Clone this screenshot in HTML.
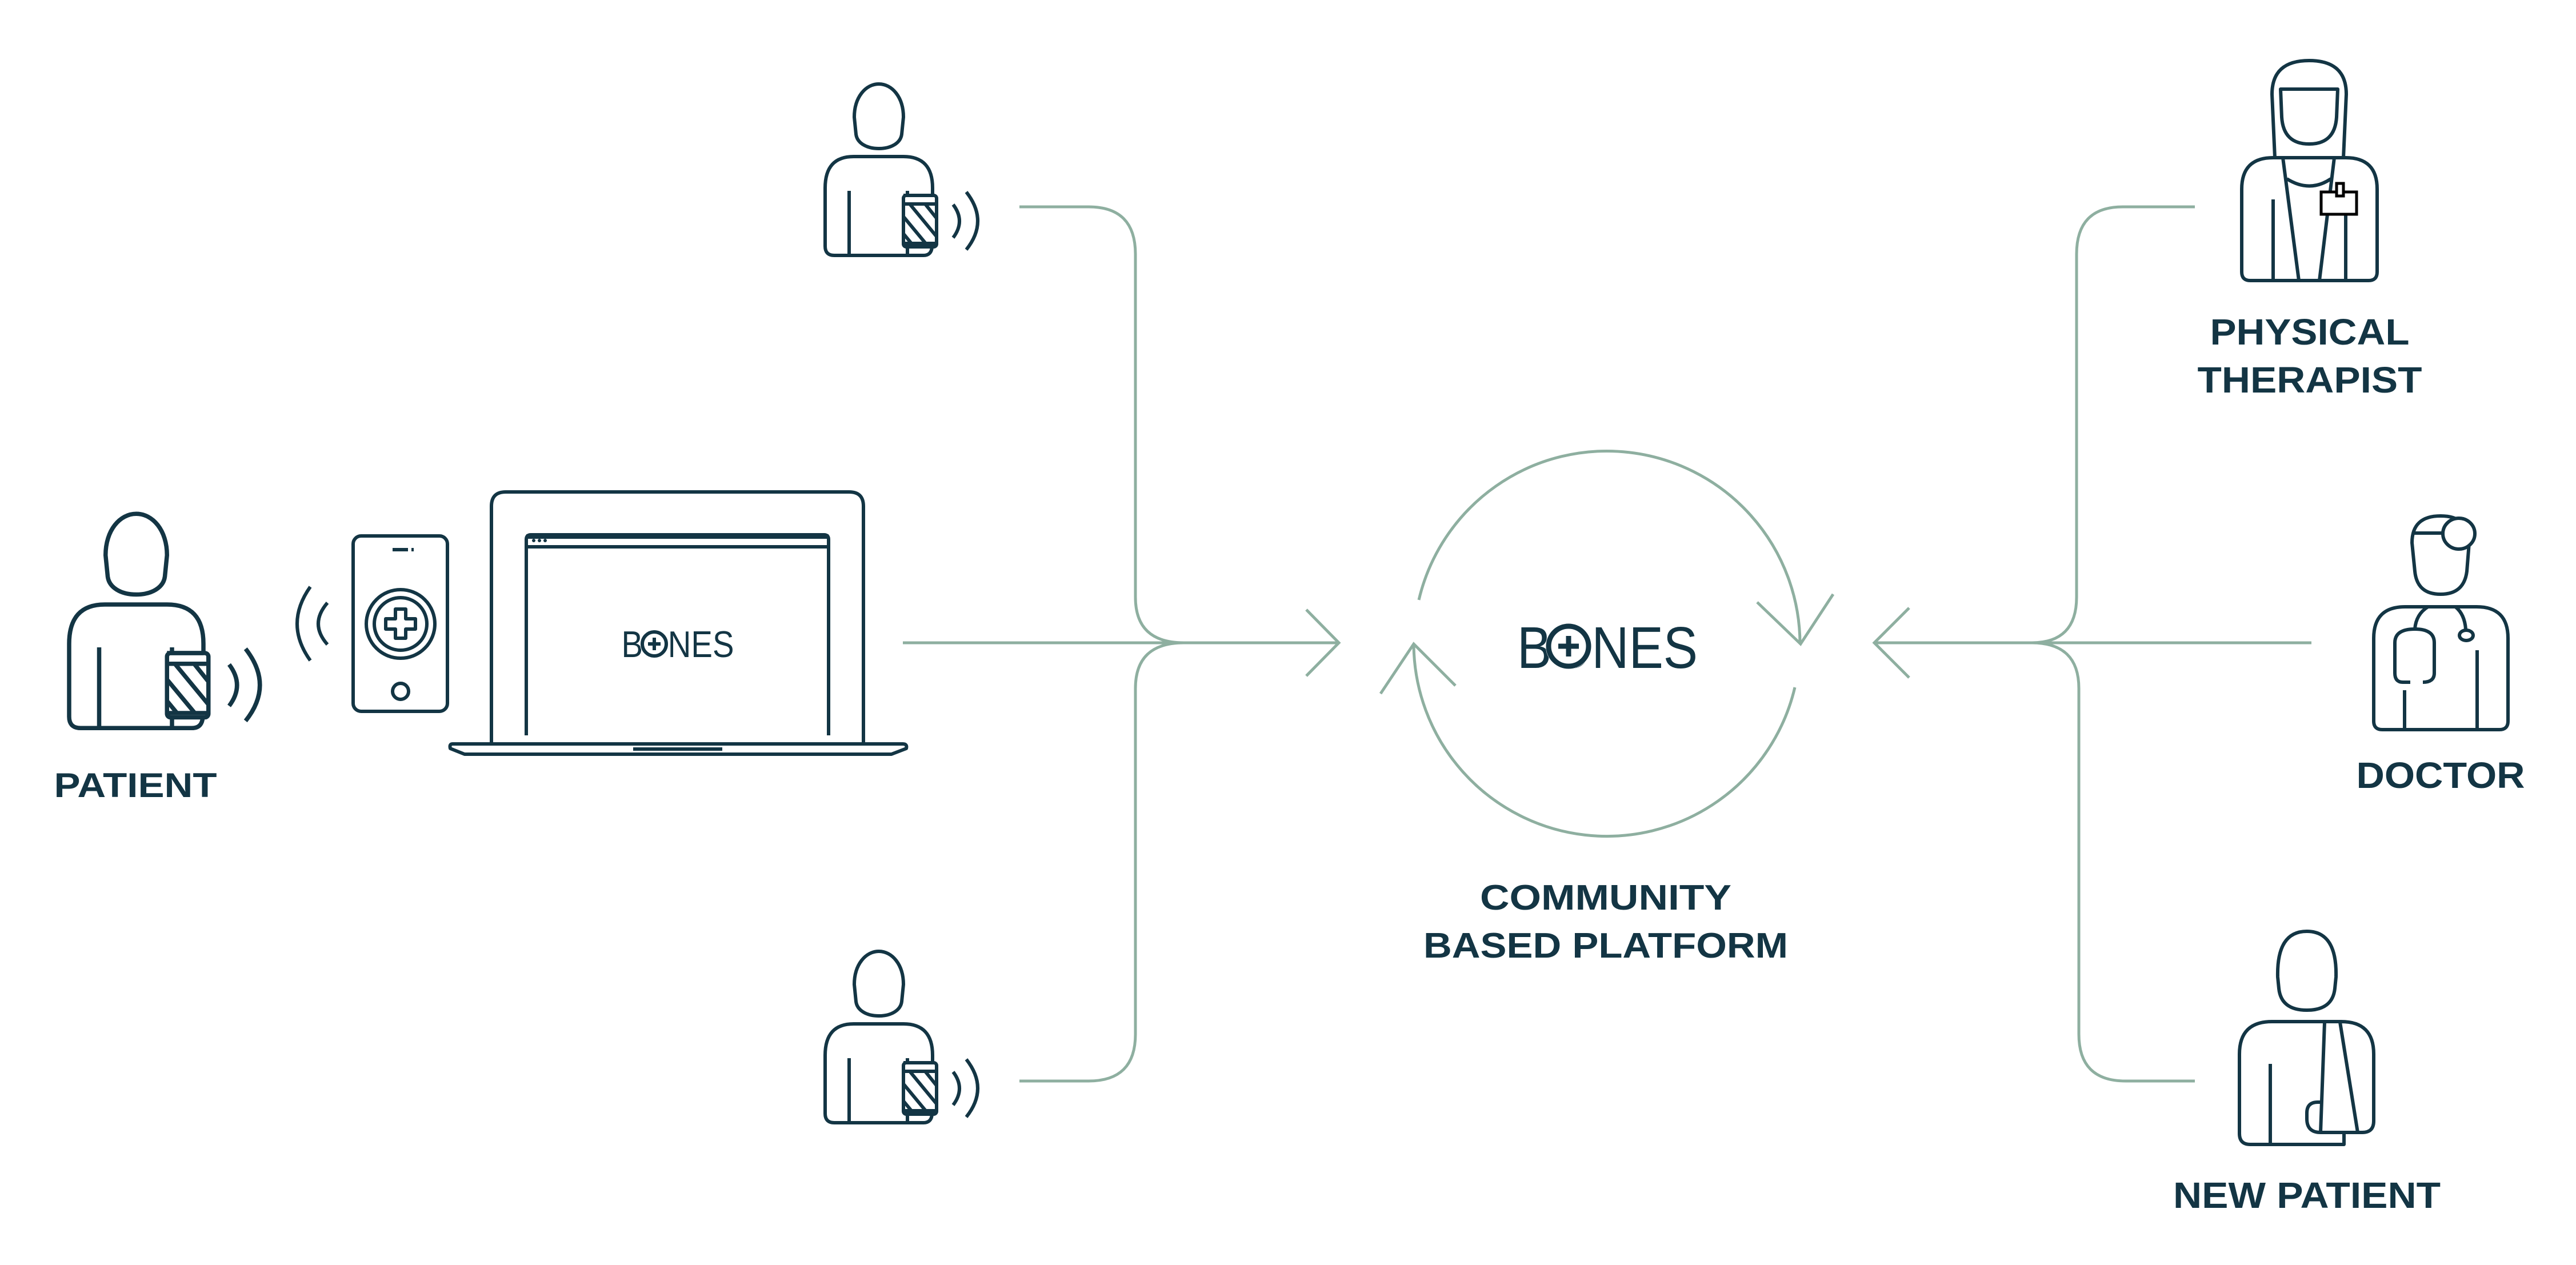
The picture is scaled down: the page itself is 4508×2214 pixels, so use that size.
<!DOCTYPE html>
<html><head><meta charset="utf-8">
<style>
html,body{margin:0;padding:0;background:#fff;}
svg{display:block;}
.d{fill:none;stroke:#133544;stroke-width:6;stroke-linecap:butt;stroke-linejoin:round;}
.g{fill:none;stroke:#8eafa0;stroke-width:5;}
.lbl{font-family:"Liberation Sans",sans-serif;font-weight:bold;fill:#133544;}
.logo{font-family:"Liberation Sans",sans-serif;font-weight:normal;fill:#133544;}
</style></head>
<body>
<svg width="4508" height="2214" viewBox="0 0 4508 2214" xmlns="http://www.w3.org/2000/svg">
<defs>
<g id="castp">
  <path class="d" d="M51,-69 C51,-104 71,-127 94,-127 C117,-127 137,-104 137,-69 L134,-39 C132,-24 116,-14 94,-14 C72,-14 56,-24 54,-39 Z"/>
  <path class="d" d="M137,68 L188,68 M188,68 L188,55 Q188,0 137,0 L50,0 Q0,0 0,55 L0,157 Q0,173 16,173 L172,173 Q186,173 187,158"/>
  <path class="d" d="M42,60 L42,173 M144,60 L144,68 M144,158 L144,173"/>
  <rect class="d" x="137" y="68" width="58" height="90" rx="5"/>
  <path class="d" d="M137,83 L195,83 M137,152 L195,152"/>
  <path class="d" d="M148,83 L195,140 M175,83 L195,108 M137,105 L195,175 M137,135 L151,152" clip-path="url(#cc)"/>
  <path class="d" d="M224,84 Q246,113 224,142 M247,62 Q287,113 247,163"/>
</g>
<clipPath id="cc"><rect x="137" y="83" width="58" height="69"/></clipPath>
</defs>

<use href="#castp" transform="translate(1444,274)"/>
<use href="#castp" transform="translate(1444,1792)"/>
<g transform="translate(121,1058) scale(1.25)"><use href="#castp"/></g>
<text class="lbl" x="237" y="1395" font-size="60" text-anchor="middle" textLength="285" lengthAdjust="spacingAndGlyphs">PATIENT</text>

<path class="d" d="M543,1027 Q497,1092 543,1156 M573,1055 Q541,1092 573,1128"/>
<rect class="d" x="618" y="938" width="165" height="307" rx="14"/>
<path class="d" d="M687,962 L714,962 M720,962 L724,962"/>
<circle class="d" cx="701" cy="1092" r="60"/>
<circle class="d" cx="701" cy="1092" r="46"/>
<path class="d" d="M692,1066 L710,1066 L710,1083 L727,1083 L727,1101 L710,1101 L710,1117 L692,1117 L692,1101 L675,1101 L675,1083 L692,1083 Z"/>
<circle class="d" cx="701" cy="1210" r="14"/>

<path class="d" d="M860,1300 L860,886 Q860,861 885,861 L1486,861 Q1511,861 1511,886 L1511,1300"/>
<path class="d" d="M921,1287 L921,944 Q921,936 929,936 L1442,936 Q1450,936 1450,944 L1450,1287"/>
<path class="d" d="M921,957 L1450,957"/>
<path class="d" d="M921,939 L1450,939" style="stroke-width:8"/>
<circle cx="934" cy="946" r="3" fill="#133544"/><circle cx="944" cy="946" r="3" fill="#133544"/><circle cx="954" cy="946" r="3" fill="#133544"/>
<path class="d" d="M792,1302 L1580,1302 Q1588,1302 1586,1310 L1560,1320 L813,1320 L788,1310 Q786,1302 792,1302 Z"/>
<path class="d" d="M1108,1311 L1264,1311"/>
<text class="logo" x="1186" y="1150" font-size="65" text-anchor="middle" textLength="197" lengthAdjust="spacingAndGlyphs">BONES</text>
<circle cx="1145" cy="1127" r="25" fill="#fff"/>
<circle cx="1145" cy="1127" r="21" fill="none" stroke="#133544" stroke-width="6"/>
<path d="M1145,1116 L1145,1138 M1134,1127 L1156,1127" stroke="#133544" stroke-width="6"/>

<path class="g" d="M1580,1125 L2343,1125 M2286,1067 L2343,1125 L2286,1183"/>
<path class="g" d="M1784,362 L1905,362 Q1987,362 1987,445 L1987,1045 Q1987,1125 2072,1125"/>
<path class="g" d="M1784,1892 L1905,1892 Q1987,1892 1987,1810 L1987,1205 Q1987,1125 2072,1125"/>

<path class="g" d="M2483,1050 A338,338 0 0 1 3150,1127"/>
<path class="g" d="M2474,1127 A338,338 0 0 0 3141,1203"/>
<path class="g" d="M2416,1214 L2474,1127 L2547,1200"/>
<path class="g" d="M3075,1054 L3151,1127 L3208,1040"/>
<text class="logo" x="2813" y="1169" font-size="103" text-anchor="middle" textLength="316" lengthAdjust="spacingAndGlyphs">BONES</text>
<circle cx="2745" cy="1131" r="40" fill="#fff"/>
<circle cx="2745" cy="1131" r="35" fill="none" stroke="#133544" stroke-width="9"/>
<path d="M2745,1113 L2745,1149 M2727,1131 L2763,1131" stroke="#133544" stroke-width="9"/>
<text class="lbl" x="2810" y="1592" font-size="62" text-anchor="middle" textLength="440" lengthAdjust="spacingAndGlyphs">COMMUNITY</text>
<text class="lbl" x="2810" y="1676" font-size="62" text-anchor="middle" textLength="638" lengthAdjust="spacingAndGlyphs">BASED PLATFORM</text>

<path class="g" d="M4045,1125 L3280,1125 M3341,1064 L3280,1125 L3341,1186"/>
<path class="g" d="M3841,362 L3715,362 Q3634,362 3634,445 L3634,1045 Q3634,1125 3555,1125"/>
<path class="g" d="M3841,1892 L3720,1892 Q3638,1892 3638,1810 L3638,1205 Q3638,1125 3555,1125"/>

<path class="d" d="M3981,276 L3976,165 Q3976,106 4041,106 Q4106,106 4106,165 L4101,276"/>
<path class="d" d="M3991,156 L4091,156 L4089,205 Q4086,252 4041,252 Q3996,252 3993,205 Z"/>
<path class="d" d="M3978,276 L4105,276 Q4160,276 4160,331 L4160,476 Q4160,491 4145,491 L3938,491 Q3923,491 3923,476 L3923,331 Q3923,276 3978,276 Z"/>
<path class="d" d="M3995,276 L4023,491 M4085,276 L4059,491 M4002,313 Q4042,338 4079,313 M3978,349 L3978,491 M4105,375 L4105,491"/>
<rect x="4062" y="336" width="62" height="39" fill="#fff" stroke="#000" stroke-width="5"/>
<rect x="4089" y="321" width="12" height="22" fill="#fff" stroke="#000" stroke-width="5"/>
<text class="lbl" x="4042" y="603" font-size="64" text-anchor="middle" textLength="349" lengthAdjust="spacingAndGlyphs">PHYSICAL</text>
<text class="lbl" x="4042" y="687" font-size="64" text-anchor="middle" textLength="393" lengthAdjust="spacingAndGlyphs">THERAPIST</text>

<path class="d" d="M4226,1000 L4221,950 Q4221,903 4271,903 Q4321,903 4321,950 L4317,1000 Q4312,1040 4271,1040 Q4230,1040 4226,1000 Z"/>
<path class="d" d="M4222,933 L4275,933"/>
<ellipse cx="4303" cy="934" rx="28" ry="27" fill="#fff" stroke="#133544" stroke-width="6"/>
<path class="d" d="M4209,1062 L4334,1062 Q4389,1062 4389,1117 L4389,1262 Q4389,1277 4374,1277 L4169,1277 Q4154,1277 4154,1262 L4154,1117 Q4154,1062 4209,1062 Z"/>
<path class="d" d="M4249,1062 Q4228,1075 4226,1101 M4218,1194 L4205,1194 Q4191,1194 4191,1178 L4191,1125 Q4191,1101 4226,1101 Q4260,1101 4260,1125 L4260,1178 Q4260,1194 4240,1194 M4297,1062 Q4313,1075 4315,1101 M4208,1208 L4208,1277 M4335,1138 L4335,1277"/>
<ellipse class="d" cx="4316" cy="1112" rx="12" ry="9"/>
<text class="lbl" x="4271" y="1379" font-size="64" text-anchor="middle" textLength="295" lengthAdjust="spacingAndGlyphs">DOCTOR</text>

<path class="d" d="M3986,1710 Q3984,1630 4037,1630 Q4090,1630 4088,1710 L4086,1730 Q4082,1768 4037,1768 Q3992,1768 3988,1730 Z"/>
<path class="d" d="M4102,1982 L4102,2003 L3938,2003 Q3919,2003 3919,1984 L3919,1845 Q3919,1788 3976,1788 L4097,1788 Q4154,1788 4154,1845 L4154,1962 Q4154,1982 4134,1982 L4061,1982 Q4037,1982 4037,1958 L4037,1948 Q4037,1929 4056,1929 L4062,1929"/>
<path class="d" d="M3973,1862 L3973,2003 M4068,1789 L4061,1982 M4095,1789 L4126,1982"/>
<text class="lbl" x="4037" y="2114" font-size="64" text-anchor="middle" textLength="468" lengthAdjust="spacingAndGlyphs">NEW PATIENT</text>
</svg>
</body></html>
